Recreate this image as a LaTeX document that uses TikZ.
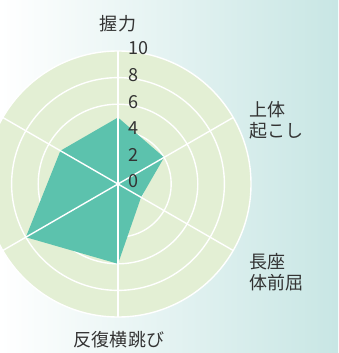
\documentclass[tikz,border=0pt]{standalone}
\usepackage{fontspec}
\setmainfont{Noto Sans CJK JP}
\usepackage{tikz}
\usetikzlibrary{positioning}

\definecolor{bgteal}{RGB}{200,230,228}
\definecolor{disc}{RGB}{227,239,212}
\definecolor{score}{RGB}{92,194,173}

\begin{document}
\begin{tikzpicture}[x=1pt,y=1pt,font=\fontsize{18}{21}\selectfont,
	grid/.style={white,line width=1.4pt},
	axlabel/.style={inner sep=0pt,align=left,text=black!80},
	num/.style={anchor=west,inner sep=0pt,text=black!80}]
	\useasboundingbox (-118,-169) rectangle (220,184);
	\clip (-118,-169) rectangle (220,184);
	\shade[left color=white,right color=bgteal,shading angle=90]
		(-118,-169) rectangle (220,184);
	\fill[disc] (0,0) circle (133);
	% rings
	\foreach \r in {2,4,...,10}
		\draw[grid] (0,0) circle (13.3*\r);
	% scores
	\fill[score] (90:66.5) -- (30:53.2) -- (-30:26.6) -- (-90:79.8)
		-- (-150:106.4) -- (150:66.5) -- cycle;
	% spokes
	\foreach \a in {90,30,...,-210}
		\draw[grid] (0,0) -- (\a:133);
	\foreach \r in {0,2,...,10}
		\node[num] (n_\r) at (10,13.3*\r+2.5) {\r};
	\node[axlabel] (grip) at (0,160) {握力};
	\node[axlabel,anchor=west] (situp) at (131,64) {上体\\起こし};
	\node[axlabel,anchor=west] (reach) at (131,-88) {長座\\体前屈};
	\node[axlabel] (side) at (1,-156) {反復横跳び};
\end{tikzpicture}
\end{document}
